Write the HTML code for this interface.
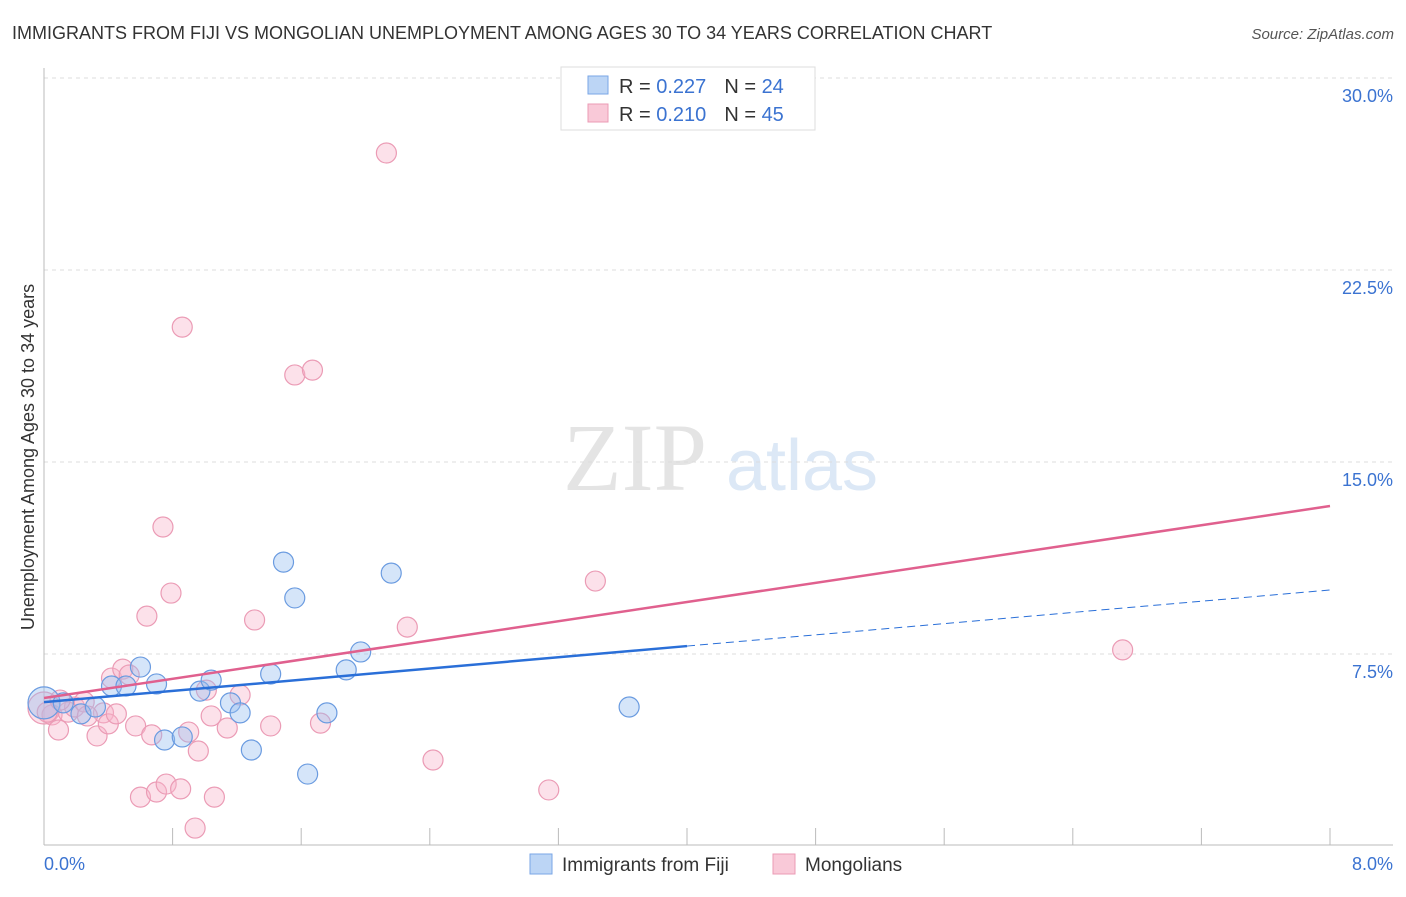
<!DOCTYPE html>
<html><head><meta charset="utf-8"><style>
body{margin:0;background:#fff;font-family:"Liberation Sans",sans-serif;}
</style></head><body>
<svg width="1406" height="892" xmlns="http://www.w3.org/2000/svg" font-family="Liberation Sans, sans-serif">
<text x="12" y="39" font-size="18" fill="#333">IMMIGRANTS FROM FIJI VS MONGOLIAN UNEMPLOYMENT AMONG AGES 30 TO 34 YEARS CORRELATION CHART</text>
<text x="1394" y="39" font-size="15" fill="#555" font-style="italic" text-anchor="end">Source: ZipAtlas.com</text>
<g>
<text x="635" y="490" font-size="96" fill="#e4e4e4" font-family="Liberation Serif, serif" text-anchor="middle">ZIP</text>
<text x="802" y="490" font-size="72" fill="#dce8f6" text-anchor="middle">atlas</text>
</g>
<g id="grid"></g>
<g id="axes"></g>
<g id="marks"></g>
<text transform="translate(34,457) rotate(-90)" font-size="18" fill="#333" text-anchor="middle">Unemployment Among Ages 30 to 34 years</text>
<text x="44" y="870" font-size="18" fill="#3b73d1">0.0%</text>
<text x="1393" y="870" font-size="18" fill="#3b73d1" text-anchor="end">8.0%</text>
<g>
<rect x="561" y="67" width="254" height="63" fill="#fff" stroke="#ddd"/>
<rect x="588" y="76" width="20" height="18" fill="#bcd5f5" stroke="#7aa6e6"/>
<rect x="588" y="104" width="20" height="18" fill="#f9c9d8" stroke="#eb9bb5"/>
<text x="619" y="93" font-size="20" fill="#333">R = <tspan fill="#3b73d1">0.227</tspan><tspan dx="18">N = </tspan><tspan fill="#3b73d1">24</tspan></text>
<text x="619" y="121" font-size="20" fill="#333">R = <tspan fill="#3b73d1">0.210</tspan><tspan dx="18">N = </tspan><tspan fill="#3b73d1">45</tspan></text>
</g>
<g>
<rect x="530" y="854" width="22" height="20" fill="#bcd5f5" stroke="#7aa6e6"/>
<text x="562" y="871" font-size="19" fill="#333">Immigrants from Fiji</text>
<rect x="773" y="854" width="22" height="20" fill="#f9c9d8" stroke="#eb9bb5"/>
<text x="805" y="871" font-size="19" fill="#333">Mongolians</text>
</g>
</svg>
<script>
const yTicks=[7.5,15,22.5,30];
const yTickLabels=["7.5%","15.0%","22.5%","30.0%"];
const xTicks=[0,0.8,1.6,2.4,3.2,4,4.8,5.6,6.4,7.2,8];
const fijiX=[0,0.12,0.23,0.32,0.42,0.51,0.60,0.70,0.75,0.86,0.97,1.04,1.16,1.22,1.29,1.41,1.49,1.56,1.64,1.76,1.88,1.97,2.16,3.64];
const fijiY=[5.59,5.59,5.16,5.43,6.25,6.25,6.99,6.33,4.14,4.26,6.05,6.48,5.59,5.20,3.75,6.72,11.09,9.69,2.81,5.20,6.88,7.58,10.66,5.43];
const mongX=[0,0.05,0.09,0.15,0.19,0.25,0.33,0.37,0.40,0.42,0.45,0.49,0.53,0.57,0.60,0.64,0.67,0.70,0.74,0.76,0.79,0.85,0.86,0.90,0.94,0.96,1.01,1.04,1.06,1.14,1.22,1.31,1.41,1.56,1.67,1.72,2.13,2.26,2.42,3.14,3.43,6.71,0.02,0.27,0.10];
const mongY=[5.39,5.12,4.53,5.23,5.43,5.63,4.30,5.20,4.77,6.56,5.16,6.91,6.68,4.69,1.91,8.98,4.34,2.11,12.46,2.42,9.88,2.23,20.27,4.45,0.70,3.71,6.09,5.08,1.91,4.61,5.90,8.83,4.69,18.40,18.59,4.80,27.07,8.55,3.36,2.19,10.35,7.66,5.23,5.08,5.70];
const fijiTrend=[5.62,10.0];
const mongTrend=[5.78,13.28];
const fijiSolidEnd=4.0;
const NS="http://www.w3.org/2000/svg";
const X=v=>44+v*160.75, Y=v=>846-v*25.6;
function mk(tag,attrs,parent){const e=document.createElementNS(NS,tag);for(const k in attrs)e.setAttribute(k,attrs[k]);parent.appendChild(e);return e;}
const grid=document.getElementById('grid'),axes=document.getElementById('axes'),marks=document.getElementById('marks');
yTicks.forEach((t,i)=>{
const l=mk('line',{x1:44,x2:1393,y1:Y(t),y2:Y(t),stroke:'#ddd','stroke-dasharray':'4,4'},grid);


const tx=mk('text',{x:1393,y:Y(t)+24,'font-size':18,fill:'#3b73d1','text-anchor':'end'},grid);
tx.textContent=yTickLabels[i];


});
const xa=mk('line',{x1:44,x2:1393,y1:845,y2:845,stroke:'#bbb'},axes);


const ya=mk('line',{x1:44,x2:44,y1:68,y2:845,stroke:'#bbb'},axes);


xTicks.forEach(t=>{
const l=mk('line',{x1:X(t),x2:X(t),y1:828,y2:845,stroke:'#bbb'},axes);


});
function pts(xs,ys,fill,stroke,name){
xs.forEach((x,i)=>{
const c=mk('circle',{cx:X(x),cy:Y(ys[i]),r:(x===0?16:10),fill:fill,stroke:stroke,'stroke-width':1.2},marks);


});
}
pts(mongX,mongY,'rgba(247,180,202,0.4)','#eb9bb5','mongolian-point');
pts(fijiX,fijiY,'rgba(150,190,240,0.4)','#6a9be0','fiji-point');
const fy=x=>fijiTrend[0]+(fijiTrend[1]-fijiTrend[0])*x/8;
const l1=mk('line',{x1:X(0),y1:Y(mongTrend[0]),x2:X(8),y2:Y(mongTrend[1]),stroke:'#e0608e','stroke-width':2.5},marks);


const l2=mk('line',{x1:X(0),y1:Y(fy(0)),x2:X(fijiSolidEnd),y2:Y(fy(fijiSolidEnd)),stroke:'#2a6fd8','stroke-width':2.5},marks);


const l3=mk('line',{x1:X(fijiSolidEnd),y1:Y(fy(fijiSolidEnd)),x2:X(8),y2:Y(fy(8)),stroke:'#2a6fd8','stroke-width':1,'stroke-dasharray':'8,5'},marks);


</script>
</body></html>
